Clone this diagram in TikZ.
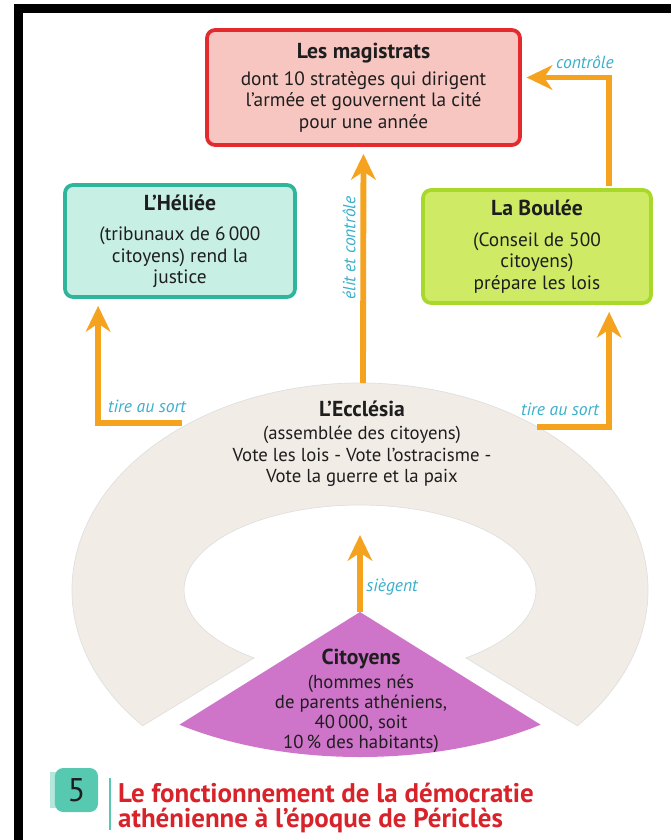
\documentclass[tikz,border=0pt]{standalone}
\usepackage{fontspec}
\setmainfont{PT Sans}
\usepackage{xcolor}
\usetikzlibrary{calc}
\usetikzlibrary{arrows.meta}

\definecolor{ink}{HTML}{1E1E1E}
\definecolor{amber}{HTML}{F5A31E}
\definecolor{sky}{HTML}{3AAFCB}
\definecolor{magline}{HTML}{E52A2D}
\definecolor{magfill}{HTML}{F8C6C1}
\definecolor{helline}{HTML}{2EB59C}
\definecolor{helfill}{HTML}{C8EFE4}
\definecolor{bouline}{HTML}{A8D92A}
\definecolor{boufill}{HTML}{CFEB66}
\definecolor{ringfill}{HTML}{F2ECE6}
\definecolor{citfill}{HTML}{CE74C9}
\definecolor{capred}{HTML}{D8232A}
\definecolor{numteal}{HTML}{58C9B1}

\newcommand\bodyfont{\fontsize{16.5}{18.2}\selectfont}
\newcommand\boxtitle[1]{{\fontsize{18.5}{18.2}\selectfont\bfseries #1}}

\begin{document}
\begin{tikzpicture}[x=0.03cm, y=-0.03cm]
            \tikzset{box/.style={draw, line width=3.2pt, rounded corners=7pt, align=center, inner sep=0pt, text=ink, font=\bodyfont}}
            \tikzset{flow/.style={draw=amber, line width=5pt, -{Stealth[length=22pt, width=21pt, inset=7pt]}}}
            \tikzset{tag/.style={text=sky, font=\itshape\fontsize{15}{16}\selectfont, inner sep=1pt}}
            \useasboundingbox (0,0) rectangle (671,840);
            % frame
            \fill[black] (14,4) rectangle (671,13);
            \fill[black] (14,4) rectangle (23,840);
            % ring of the assembly and the citizens
            \begin{scope}[shift={(360,590)}]
                \filldraw[fill=ringfill, draw=black!12, line width=0.6pt]
                    (221:8.64cm and 6.21cm) arc[start angle=221, end angle=-41, x radius=8.64cm, y radius=6.21cm]
                    -- (-53:5.28cm and 2.55cm) arc[start angle=-53, end angle=233, x radius=5.28cm, y radius=2.55cm]
                    -- cycle;
            \end{scope}
            \coordinate (apex) at (360,612);
            \fill[citfill] (apex) -- ($(apex)+(231:8.61cm and 4.35cm)$) arc[start angle=231, end angle=309, x radius=8.61cm, y radius=4.35cm] -- cycle;
            % boxes
            \node[box, draw=magline, fill=magfill, minimum width=9.39cm, minimum height=3.45cm] (mag) at (363.5,87.5)
                {\boxtitle{Les magistrats}\\[5pt] dont 10 stratèges qui dirigent\\ l’armée et gouvernent la cité\\ pour une année};
            \node[box, draw=helline, fill=helfill, minimum width=6.9cm, minimum height=3.36cm] (heliee) at (180,241)
                {\boxtitle{L’Héliée}\\[8pt] (tribunaux de 6\,000\\ citoyens) rend la\\ justice};
            \node[box, draw=bouline, fill=boufill, minimum width=6.84cm, minimum height=3.39cm] (boulee) at (537,246.5)
                {\boxtitle{La Boulée}\\[8pt] (Conseil de 500\\ citoyens)\\ prépare les lois};
            \node[align=center, text=ink, font=\fontsize{16}{18.5}\selectfont] (ecclesia) at (362,444)
                {\boxtitle{L’Ecclésia}\\[1pt] (assemblée des citoyens)\\ Vote les lois - Vote l’ostracisme -\\ Vote la guerre et la paix};
            \node[align=center, text=ink, font=\fontsize{16}{17.3}\selectfont] (citoyens) at (361,701)
                {\boxtitle{Citoyens}\\[3pt] (hommes nés\\ de parents athéniens,\\ 40\,000, soit\\ 10\,\% des habitants)};
            % connectors
            \coordinate (ringtop) at (363,383);
            \coordinate (tl) at (182,423);
            \coordinate (tr) at (537,427);
            \coordinate (seat) at (360,535);
            \draw[flow, shorten >=6pt] (ringtop) -- (mag.south);
            \draw[flow, shorten >=6pt] (tl) -| ($(heliee.south west)+(35,0)$);
            \draw[flow, shorten >=6pt] (tr) -| ($(boulee.south west)+(188,0)$);
            \draw[flow, shorten >=4pt, shorten <=1.5pt] ($(boulee.north west)+(188,0)$) |- ($(mag.east)+(0,-10)$);
            \draw[flow] (apex) -- (seat);
            % labels
            \node[tag] (lctrl) at (585,62) {contrôle};
            \node[tag, rotate=90] (lelit) at (349,248) {élit et contrôle};
            \node[tag] (ltl) at (147,406) {tire au sort};
            \node[tag] (ltr) at (560,409) {tire au sort};
            \node[tag] (lseat) at (392,587) {siègent};
            % caption
            \fill[numteal!45] (50,772) rectangle (62,808);
            \node[fill=numteal, rounded corners=7pt, minimum width=1.29cm, minimum height=1.32cm, inner sep=0pt, font=\fontsize{28}{28}\selectfont, text=ink] (num) at (76.5,790) {5};
            \draw[numteal, line width=1.8pt] (110,778) -- (110,830);
            \node[anchor=west, align=left, inner sep=0pt, text=capred, font=\bfseries\fontsize{23}{21.3}\selectfont] (caption) at (118,808)
                {Le fonctionnement de la démocratie\\ athénienne à l’époque de Périclès};
        \end{tikzpicture}
\end{document}
